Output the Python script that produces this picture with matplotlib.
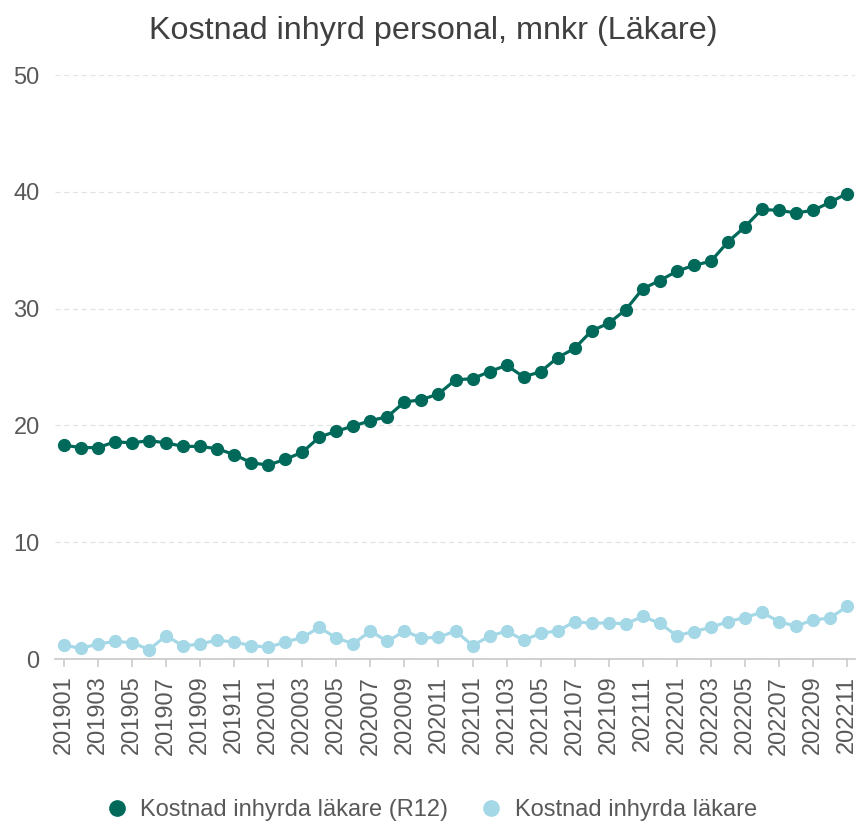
import matplotlib
matplotlib.use("Agg")
import matplotlib.pyplot as plt
import numpy as np

plt.rcParams['font.family'] = ['Liberation Sans', 'DejaVu Sans']

months = [f"{y}{m:02d}" for y in (2019, 2020, 2021, 2022) for m in range(1, 13)][:47]

r12 = [18.3, 18.1, 18.1, 18.6, 18.5, 18.7, 18.5, 18.2, 18.2, 18.0, 17.5, 16.8,
       16.6, 17.1, 17.7, 19.0, 19.5, 19.95, 20.4, 20.75, 22.0, 22.2, 22.7, 23.9,
       24.0, 24.6, 25.15, 24.15, 24.6, 25.8, 26.6, 28.1, 28.75, 29.9, 31.7, 32.4,
       33.2, 33.7, 34.05, 35.7, 37.0, 38.5, 38.4, 38.2, 38.4, 39.1, 39.85]

monthly = [1.2, 0.9, 1.3, 1.5, 1.4, 0.8, 2.0, 1.1, 1.3, 1.6, 1.45, 1.15,
           1.0, 1.45, 1.85, 2.7, 1.8, 1.3, 2.4, 1.5, 2.4, 1.8, 1.85, 2.4,
           1.15, 1.95, 2.4, 1.6, 2.2, 2.4, 3.2, 3.05, 3.1, 3.0, 3.65, 3.05,
           2.0, 2.35, 2.7, 3.2, 3.55, 4.0, 3.2, 2.8, 3.35, 3.5, 4.5]

series_names = ["Kostnad inhyrda läkare (R12)", "Kostnad inhyrda läkare"]
title = "Kostnad inhyrd personal, mnkr (Läkare)"
yticks = [0, 10, 20, 30, 40, 50]

dark = "#00695A"
light = "#A4D8E7"
txt = "#595959"

fig = plt.figure(figsize=(8.64, 8.25), dpi=100)
ax = fig.add_axes([55/864, 1 - 659/825, 800/864, (659 - 75)/825])

x = np.arange(len(months))
ax.plot(x, r12, color=dark, lw=2.3, marker='o', ms=8.5, label=series_names[0], zorder=3)
ax.plot(x, monthly, color=light, lw=2.3, marker='o', ms=8.5, label=series_names[1], zorder=3)

ax.set_ylim(0, 50)
ax.set_xlim(-0.53, 46.47)
ax.set_yticks(yticks)
ax.set_xticks(x[::2])
ax.set_xticklabels(months[::2], rotation=90)
ax.grid(axis='y', color='#e3e3e3', linestyle=(0, (4, 3)), lw=0.9)
ax.set_axisbelow(True)
for s in ('top', 'right', 'left'):
    ax.spines[s].set_visible(False)
ax.spines['bottom'].set_color('#c8c8c8')
ax.spines['bottom'].set_linewidth(1.2)
ax.tick_params(axis='y', length=0, pad=11, labelsize=17, labelcolor=txt)
ax.tick_params(axis='x', length=6, width=1.1, color='#c8c8c8', pad=6, labelsize=17, labelcolor=txt)

fig.text(0.502, 1 - 31/825, title, ha='center', va='center', fontsize=23.3, color='#404040')

leg = fig.legend(loc='center', bbox_to_anchor=(0.5, 1 - 810/825), ncol=2, frameon=False,
                 fontsize=17, handlelength=0.8, handletextpad=0.6, columnspacing=1.4,
                 labelcolor=txt)
for h in leg.legend_handles:
    h.set_linestyle('None')
    h.set_markersize(11)

fig.savefig("out.png", dpi=100)
